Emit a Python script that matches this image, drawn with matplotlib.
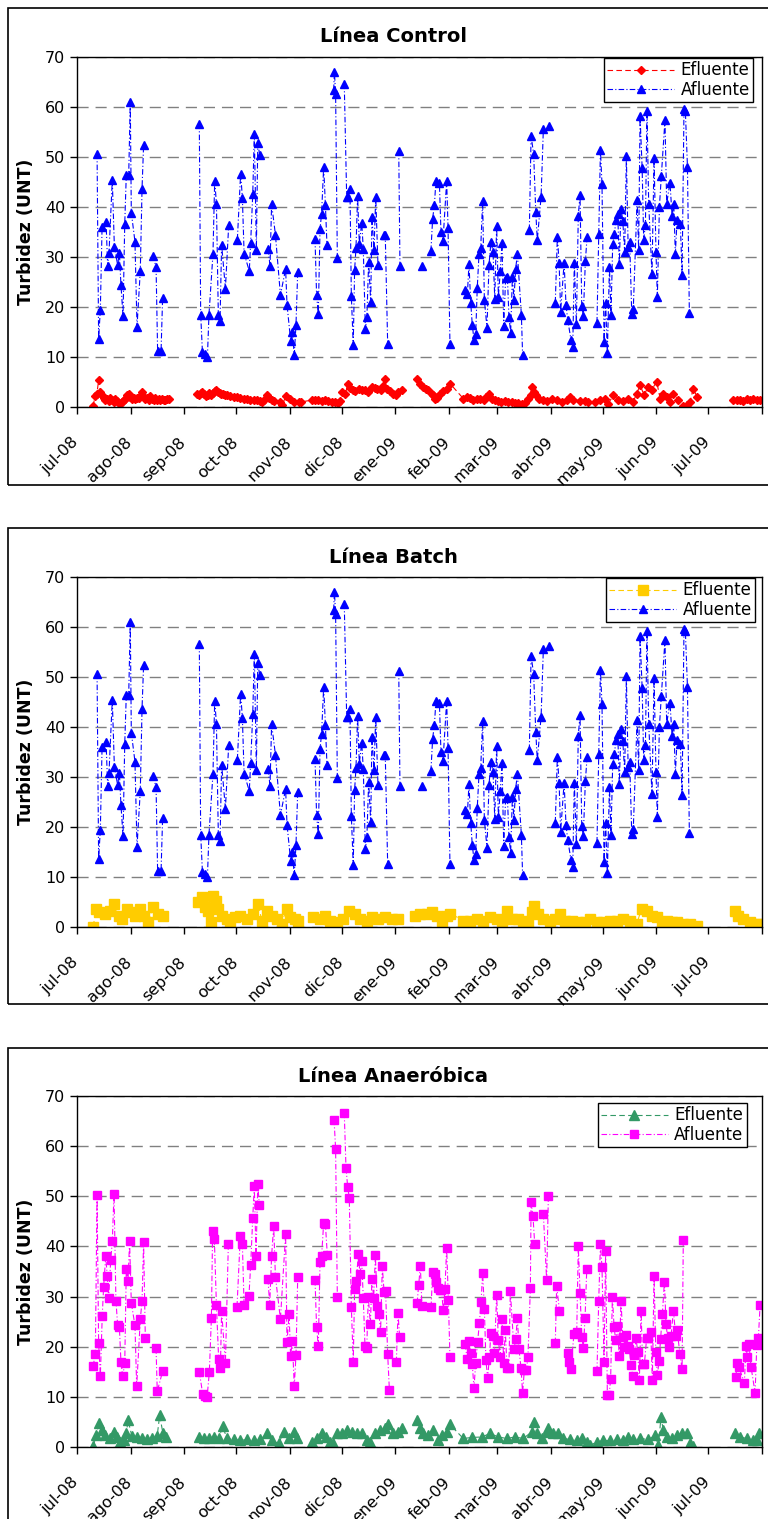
import numpy as np
import pandas as pd
import matplotlib
matplotlib.use("Agg")
import matplotlib.pyplot as plt
import matplotlib.transforms as mtransforms
from matplotlib.patches import Rectangle

# dias desde el 01-jul-2008 y turbidez (UNT)

# afluente de las lineas Control y Batch (es la misma serie)
dias_afl = [11.6, 12.5, 13.5, 14.5, 16.8, 17.7, 18.5, 20.4, 21.6, 23.5, 24.5, 25.4, 26.6, 27.6,
            28.5, 29.9, 30.8, 31.4, 33.5, 34.7, 36.6, 37.6, 38.5, 43.7, 45.7, 46.6, 48.6, 49.5,
            70.7, 71.5, 72.5, 73.8, 75.4, 76.3, 78.6, 79.6, 80.6, 81.7, 82.7, 83.6, 85.8, 87.7,
            92.7, 94.6, 95.6, 96.6, 99.6, 100.4, 101.6, 102.5, 103.7, 104.5, 105.6, 110.4, 111.6,
            112.5, 114.7, 117.6, 120.6, 121.4, 123.5, 124.5, 125.6, 126.6, 127.6,
            137.6, 138.5, 139.5, 140.5, 141.4, 142.6, 143.6, 144.5, 148.4, 148.8, 149.5, 150.5,
            154.5, 155.9, 156.9, 157.8, 158.6, 159.7, 160.5, 161.3, 162.2, 163.2, 164.6, 165.5,
            166.7, 167.6, 168.6, 169.8, 170.5, 171.7, 172.7, 174.0, 177.3, 178.2, 179.6, 186.0,
            186.7, 199.4, 204.6, 205.6, 206.6, 207.5, 209.5, 210.4, 211.6, 213.7, 214.5, 215.6,
            224.5, 225.7, 226.6, 227.6, 228.5, 229.5, 230.5, 231.4, 232.4, 233.4, 234.5, 235.5,
            237.0, 238.2, 239.3, 240.5, 241.5, 242.6, 243.6, 244.7, 245.7, 246.7, 247.8, 248.8,
            249.7, 250.7, 251.7, 252.6, 253.6, 254.6, 256.9, 257.6, 261.5, 262.5, 264.0, 265.2,
            266.1, 268.3, 269.6, 272.9, 276.5, 277.7, 278.7, 279.6, 281.6, 282.7, 283.7, 285.6,
            286.6, 287.5, 288.7, 289.8, 290.8, 291.8, 292.7, 293.9, 294.9, 300.6, 301.6, 302.6,
            303.5, 304.7, 305.6, 306.6, 307.8, 308.7, 309.7, 310.7, 311.6, 312.6, 313.5, 314.5,
            315.5, 316.6, 317.6, 318.6, 319.5, 320.7, 321.6, 323.8, 324.7, 325.5, 326.7, 327.6,
            328.6, 329.5, 330.5, 332.4, 333.6, 334.7, 335.5, 336.7, 337.8, 339.9, 340.9, 342.8,
            344.0, 345.0, 345.9, 346.9, 348.8, 349.8, 350.9, 351.7, 352.9, 354.0]
turb_afl = [50.7, 13.7, 19.5, 36.1, 37.1, 28.3, 30.9, 45.4, 32.1, 28.4, 30.9, 24.5, 18.2, 36.6,
            46.5, 46.5, 61.1, 38.9, 33.1, 16.1, 27.3, 43.7, 52.4, 30.3, 28.1, 11.3, 11.3, 21.9,
            56.7, 18.5, 11.1, 10.6, 10.1, 18.5, 30.6, 45.3, 40.7, 18.5, 17.3, 32.5, 23.7, 36.4,
            33.5, 46.7, 41.9, 30.7, 27.2, 32.9, 42.6, 54.7, 31.4, 52.9, 50.4, 31.6, 28.3,
            40.6, 34.5, 22.4, 27.6, 20.5, 13.3, 15.1, 10.4, 16.5, 27.1,
            33.7, 22.4, 18.7, 35.6, 38.7, 48.1, 40.4, 32.5, 63.4, 67.1, 62.7, 29.9,
            64.7, 42.1, 42.1, 43.7, 22.2, 12.5, 27.5, 31.9, 42.3, 32.7, 36.9, 31.6,
            15.6, 18.1, 29.1, 21.0, 38.1, 31.4, 42.1, 28.4, 34.5, 34.5, 12.6, 51.3,
            28.3, 28.3, 31.2, 37.7, 40.4, 45.2, 44.9, 35.1, 33.3, 45.2, 35.9, 12.6,
            23.4, 22.6, 28.7, 20.9, 16.5, 13.4, 14.7, 23.9, 30.6, 31.9, 41.3, 21.4,
            15.9, 28.5, 33.1, 31.1, 21.7, 36.2, 22.1, 27.2, 32.9, 16.2, 25.9, 26.1,
            18.1, 14.9, 26.1, 21.5, 27.7, 30.6, 18.4, 10.5, 35.4, 54.2, 50.6, 39.1,
            33.4, 42.1, 55.6, 56.2, 20.9, 34.1, 28.9, 19.1, 28.9, 20.4, 17.4, 13.4,
            12.1, 28.9, 16.6, 38.3, 42.5, 20.2, 18.3, 29.2, 34.1, 16.9, 34.7, 51.4,
            44.6, 13.1, 20.9, 10.9, 28.1, 18.4, 32.7, 34.7, 37.4, 38.7, 28.7, 39.7,
            37.3, 31.1, 50.2, 32.1, 33.1, 18.7, 19.7, 41.4, 31.4, 58.2, 47.9, 33.5,
            36.4, 59.3, 40.6, 26.6, 49.9, 31.1, 22.1, 40.1, 46.2, 57.4, 40.7, 44.9,
            38.3, 40.7, 30.6, 37.5, 36.7, 26.4, 59.7, 59.2, 48.1, 18.9]

# efluente linea Control
dias_efl_ctrl = [9.3, 10.5, 11.5, 12.5, 13.5, 14.5, 15.4, 16.4, 17.4, 18.3, 19.3, 20.2, 21.2, 22.2,
                 23.2, 24.1, 25.1, 26.1, 27.0, 28.0, 29.0, 29.9, 30.9, 31.8, 32.8, 33.7, 34.7, 35.7,
                 36.6, 37.6, 38.5, 39.5, 40.5, 41.4, 42.4, 43.4, 44.3, 45.3, 46.3, 47.2, 48.2, 49.2,
                 50.1, 51.1, 52.1, 53.0,
                 69.4, 70.5, 71.5, 72.5, 73.5, 74.6, 75.5, 76.5, 77.5, 78.5, 79.5, 80.6, 81.5, 82.5,
                 83.5, 84.5, 85.6, 86.7, 88.5, 90.5, 92.5, 94.5, 96.4, 98.3, 100.2, 102.2, 104.1,
                 106.0, 107.0, 108.0, 109.8, 111.0, 112.5, 114.0, 117.6, 118.5, 121.0, 123.3, 125.3,
                 128.2, 129.5,
                 135.7, 137.6, 139.5, 141.4, 143.3, 145.3, 147.2, 149.1, 151.0, 152.0,
                 153.0, 155.0, 156.9, 158.0, 159.7, 161.0, 163.2, 165.0, 166.7, 168.5, 170.5, 172.0,
                 173.6, 175.5, 176.8, 177.9, 179.0, 180.8, 182.8, 184.5, 185.6, 187.7,
                 196.3, 198.3, 200.2, 201.5, 203.1, 205.0, 206.0, 207.0, 208.0, 210.0, 211.8, 213.7,
                 215.6,
                 223.3, 225.3, 227.2, 229.1, 231.0, 233.0, 235.0, 236.7, 238.0, 239.7, 241.5, 243.5,
                 245.4, 247.3, 249.3, 251.2, 253.1, 255.0, 257.0, 259.0, 260.9, 262.2, 263.0, 264.0,
                 265.6, 267.2, 269.6, 271.7, 274.4, 277.3, 280.2, 283.1, 285.0, 287.0, 290.8, 293.7,
                 295.6, 299.5, 302.4, 305.3, 307.2, 310.1, 313.0, 315.9, 318.8, 321.6, 323.6, 325.5,
                 327.8, 330.3, 332.2, 335.1, 337.1, 339.0, 340.9, 342.8, 344.8, 347.7, 350.6, 352.5,
                 354.4, 356.3, 358.3,
                 379.5, 381.5, 383.3, 385.2, 387.2, 389.1, 391.0, 393.0, 394.9]
turb_efl_ctrl = [0.2, 2.3, 2.6, 5.4, 3.1, 2.4, 1.9, 1.5, 1.6, 1.2, 1.9, 1.4, 1.1, 1.6,
                 1.3, 0.9, 0.7, 1.1, 1.4, 1.7, 2.4, 2.7, 2.0, 1.7, 1.9, 1.6, 1.8, 1.9,
                 2.2, 3.1, 2.0, 1.6, 1.8, 1.5, 2.2, 1.6, 1.4, 1.8, 1.5, 1.6, 1.5, 1.7,
                 1.4, 1.5, 1.7, 1.6,
                 2.7, 2.4, 2.9, 3.1, 2.6, 2.2, 2.4, 2.8, 2.5, 2.9, 3.2, 3.4, 3.0, 2.9,
                 2.6, 2.7, 2.4, 2.4, 2.2, 2.1, 2.1, 1.9, 1.7, 1.6, 1.5, 1.5, 1.4,
                 1.2, 1.1, 1.4, 2.4, 1.8, 1.4, 1.2, 1.1, 0.4, 2.3, 1.7, 1.1,
                 1.1, 1.0,
                 1.4, 1.5, 1.4, 1.3, 1.4, 1.2, 1.1, 1.0, 0.9, 1.2,
                 3.1, 2.7, 4.7, 3.9, 3.4, 3.3, 3.7, 3.4, 3.4, 3.1, 4.1, 3.9,
                 3.7, 3.4, 4.3, 5.7, 3.7, 3.2, 2.7, 2.5, 3.0, 3.4,
                 5.7, 4.7, 4.1, 3.7, 3.4, 2.7, 2.4, 1.7, 1.9, 2.7, 3.2, 3.7,
                 4.7,
                 1.7, 2.1, 1.8, 1.5, 1.7, 1.6, 1.4, 2.0, 2.7, 1.6, 1.5, 1.3,
                 1.1, 1.2, 1.1, 1.0, 0.9, 0.8, 0.7, 0.8, 1.7, 2.5, 4.1, 3.0,
                 2.4, 1.7, 1.4, 1.2, 1.7, 1.4, 1.1, 1.5, 2.1, 1.4, 1.3, 1.3,
                 1.1, 1.1, 1.4, 1.7, 0.7, 2.4, 1.4, 1.3, 1.7, 1.1, 2.7, 4.4,
                 2.4, 4.1, 3.4, 5.1, 1.7, 2.7, 2.1, 1.1, 2.7, 1.4, 0.2, 0.4,
                 1.1, 3.7, 2.1,
                 1.5, 1.4, 1.5, 1.3, 1.7, 1.5, 1.6, 1.4, 1.5]

# efluente linea Batch
dias_efl_batch = [9.4, 11.0, 13.0, 16.0, 19.0, 21.4, 24.0, 26.0, 28.8, 31.0, 33.5, 36.4, 38.7, 41.2,
                  44.0, 47.0, 49.9,
                  70.1, 72.0, 74.0, 76.0, 77.3, 78.8, 80.4, 81.7, 83.6, 86.5, 88.4, 91.3, 94.2, 98.0,
                  102.0, 104.8, 106.7, 109.6, 112.6, 115.5, 118.3, 121.2, 123.2, 126.0, 128.0,
                  136.6, 140.5, 143.4, 146.3, 150.1, 154.0, 157.5, 160.7, 163.6, 167.5, 170.4, 174.2,
                  178.1, 181.9, 185.8,
                  195.4, 198.3, 202.2, 205.1, 208.0, 210.9, 213.7, 215.7,
                  223.4, 227.2, 231.1, 234.9, 238.8, 242.7, 245.5, 248.4, 251.3, 255.2, 258.1, 261.0,
                  262.9, 264.2, 266.7, 269.6, 273.5, 276.4, 279.3, 282.2, 286.0, 289.9, 293.7, 296.6,
                  300.5, 304.3, 308.2, 312.0, 315.9, 319.7, 323.6, 326.5, 329.4, 332.3, 335.2, 338.0,
                  340.9, 343.8, 346.7, 350.6, 354.4, 358.3,
                  380.4, 382.4, 385.3, 389.1, 393.0, 395.0]
turb_efl_batch = [0.1, 3.7, 3.0, 2.7, 3.3, 4.7, 2.3, 1.7, 3.7, 3.0, 2.3, 3.7, 2.3, 1.0,
                  4.0, 2.7, 2.3,
                  5.0, 6.0, 4.0, 3.3, 1.0, 6.3, 5.3, 3.7, 2.3, 1.7, 1.0, 2.0, 2.3, 1.7,
                  2.7, 4.7, 1.3, 3.3, 2.3, 1.7, 0.7, 3.7, 2.0, 1.7, 1.3,
                  2.0, 1.7, 2.3, 1.3, 1.0, 1.7, 3.3, 2.7, 1.7, 1.3, 2.0, 1.7,
                  2.0, 1.7, 1.7,
                  2.3, 2.7, 2.7, 3.0, 2.3, 1.3, 2.3, 2.7,
                  1.3, 1.3, 1.7, 1.3, 2.0, 1.7, 1.3, 3.3, 1.7, 1.7, 1.3, 1.0,
                  3.0, 4.3, 2.7, 1.7, 1.3, 1.7, 2.7, 1.3, 1.3, 1.0, 1.0, 1.7,
                  1.0, 1.0, 1.3, 1.3, 1.7, 1.3, 0.7, 3.7, 3.3, 2.3, 2.0, 1.0,
                  1.3, 1.0, 1.0, 0.7, 0.7, 0.3,
                  3.3, 2.3, 1.7, 1.0, 0.7, 0.7]

# afluente linea Anaerobica
dias_afl_ana = [9.3, 10.6, 11.6, 12.5, 13.5, 14.6, 15.4, 16.6, 17.5, 18.3, 19.5, 20.4, 21.4, 22.5,
                23.5, 24.5, 25.4, 26.4, 27.6, 28.5, 29.5, 30.4, 31.4, 33.5, 34.5, 36.6, 37.6, 38.5,
                39.5, 45.7, 46.4, 49.5,
                70.7, 72.7, 74.2, 75.2, 76.5, 77.7, 78.4, 79.4, 80.6, 81.9, 82.9, 83.6, 85.8, 87.5,
                92.5, 94.4, 95.6, 96.6, 99.4, 100.4, 101.6, 102.5, 103.5, 104.5, 105.4, 110.4, 111.4,
                112.5, 113.7, 114.7, 117.6, 120.6, 121.4, 122.6, 123.5, 124.5, 125.6, 126.6, 127.6,
                137.6, 138.5, 139.5, 140.5, 141.4, 142.6, 143.6, 144.7, 148.6, 149.5, 150.5, 154.5,
                155.5, 156.5, 157.4, 158.6, 159.7, 160.5, 161.5, 162.6, 163.6, 164.6, 165.5, 166.5,
                167.5, 168.4, 169.6, 170.5, 171.5, 172.5, 173.6, 174.6, 175.5, 176.5, 177.5, 178.4,
                179.6, 180.6, 184.6, 185.6, 186.5,
                196.6, 197.5, 198.5, 199.4, 204.7, 205.6, 206.8, 207.7, 208.7, 209.7, 210.6, 211.8,
                212.7, 213.7, 214.7, 215.6,
                224.5, 225.5, 226.4, 227.6, 228.5, 229.5, 230.5, 231.6, 232.6, 233.6, 234.5, 235.5,
                236.4, 237.4, 238.4, 239.3, 240.3, 241.3, 242.6, 243.6, 244.7, 245.7, 246.7, 247.6,
                248.6, 249.7, 250.5, 252.6, 253.6, 254.6, 255.5, 256.7, 257.6, 258.6, 259.8, 260.7,
                262.1, 262.5, 263.6, 264.6, 269.6, 271.5, 272.5, 276.5, 277.3, 278.9,
                284.1, 284.6, 285.4, 287.3, 288.9, 289.8, 290.8, 291.8, 292.7, 293.7, 294.7,
                300.6, 301.6, 302.6, 303.5, 304.7, 305.6, 306.6, 307.6, 308.5, 309.5, 310.5, 311.4,
                312.4, 313.5, 314.5, 315.5, 316.4, 317.4, 318.4, 319.3, 320.3, 321.3, 322.2, 323.2,
                324.1, 325.1, 326.1, 327.0, 328.0, 329.3, 330.3, 331.7, 332.6, 333.6, 334.6, 335.5,
                336.5, 337.4, 338.4, 339.6, 340.5, 341.5, 342.5, 343.4, 344.8, 346.1, 346.9, 348.6,
                349.8, 350.5,
                380.8, 381.8, 382.7, 385.8, 386.8, 387.5, 388.5, 389.7, 392.0, 393.0, 393.9, 394.9]
turb_afl_ana = [16.1, 18.5, 50.3, 20.7, 14.2, 26.2, 32.0, 38.0, 34.1, 29.7, 37.3, 41.0, 50.5, 29.2,
                24.3, 23.9, 17.0, 14.1, 16.7, 35.5, 33.2, 41.0, 28.7, 24.3, 12.1, 25.5, 29.1, 40.8,
                21.7, 19.7, 11.1, 15.1,
                15.0, 10.5, 10.2, 9.9, 14.9, 25.8, 43.1, 41.5, 28.3, 17.5, 15.7, 27.1, 16.7, 40.5,
                28.0, 42.0, 40.5, 28.3, 30.1, 36.3, 45.7, 52.1, 38.0, 52.5, 48.3, 33.5, 28.3,
                38.1, 44.1, 34.0, 25.5, 42.5, 20.9, 26.5, 18.1, 21.2, 12.1, 18.3, 33.9,
                33.3, 24.0, 20.1, 36.9, 38.0, 44.7, 44.5, 38.3, 65.3, 59.5, 29.9, 66.7,
                55.7, 51.8, 49.7, 27.9, 17.0, 31.5, 33.1, 38.5, 34.5, 37.0, 29.7, 20.1,
                19.8, 29.9, 24.5, 33.5, 29.7, 38.2, 28.1, 26.5, 22.9, 36.0, 31.0, 31.1,
                18.5, 11.3, 16.9, 26.7, 21.9,
                28.7, 32.3, 36.1, 28.1, 27.9, 34.9, 34.5, 33.0, 31.8, 31.3, 31.3, 27.3,
                31.5, 39.7, 29.3, 17.9,
                20.5, 17.5, 21.2, 18.7, 16.5, 11.8, 16.8, 20.9, 24.7, 28.9, 34.8, 27.5,
                17.3, 13.7, 18.0, 22.8, 22.1, 18.7, 30.3, 21.3, 18.0, 25.5, 16.7, 23.3,
                15.7, 15.7, 31.2, 19.5, 21.5, 25.7, 19.5, 15.7, 10.8, 15.3, 15.3, 18.0,
                31.7, 48.8, 46.0, 40.5, 46.5, 33.3, 50.1, 20.7, 32.1, 27.2,
                18.7, 17.0, 15.5, 22.5, 23.0, 40.0, 30.8, 22.0, 19.8, 25.7, 35.5,
                15.1, 29.1, 40.5, 35.8, 17.0, 39.0, 10.3, 10.3, 13.5, 30.0, 23.9, 21.3,
                24.2, 18.1, 29.2, 22.0, 19.9, 22.3, 20.1, 19.5, 16.3, 14.1, 18.3, 21.7,
                19.0, 13.3, 27.2, 16.5, 16.5, 21.7, 21.7, 23.0, 13.3, 34.1, 19.0, 14.3,
                17.2, 21.5, 26.5, 33.0, 24.5, 21.7, 19.9, 22.1, 27.2, 22.1, 23.3, 18.5,
                15.5, 41.2,
                13.9, 16.8, 15.9, 12.8, 20.2, 18.0, 20.5, 15.9, 10.8, 20.3, 21.7, 28.3]

# efluente linea Anaerobica
dias_efl_ana = [9.3, 11.2, 12.5, 14.5, 16.4, 19.3, 21.2, 23.1, 25.1, 27.0, 28.5, 29.5, 31.8, 34.7,
                37.6, 40.5, 43.4, 46.3, 47.8, 49.7, 51.6,
                70.3, 73.2, 76.1, 79.0, 81.9, 84.2, 86.7, 90.6, 94.4, 98.3, 102.1, 106.0, 109.8,
                112.7, 116.6, 119.5, 122.4, 125.3, 127.2,
                135.7, 138.5, 141.4, 143.7, 146.3, 148.2, 150.1, 153.0, 155.9, 158.8, 161.7, 164.6,
                167.5, 169.4, 172.3, 175.2, 178.1, 180.0, 182.9, 185.8, 187.7,
                196.4, 198.3, 200.2, 203.1, 206.0, 208.9, 210.8, 213.7, 215.6,
                223.3, 228.2, 234.0, 238.8, 243.6, 248.4, 253.2, 258.0, 262.8, 264.4, 265.8, 268.6,
                271.5, 272.5, 275.4, 278.3, 281.2, 285.0, 288.9, 291.8, 294.7, 296.6, 300.4, 304.3,
                308.2, 312.0, 315.9, 318.8, 321.6, 325.5, 330.3, 334.2, 336.1, 337.6, 339.0, 340.9,
                343.8, 346.7, 349.6, 352.5, 354.4, 356.3,
                380.4, 383.3, 387.2, 391.0, 393.0, 394.5]
turb_efl_ana = [0.1, 2.3, 4.7, 3.3, 2.3, 1.7, 3.0, 2.0, 1.0, 1.3, 2.7, 5.3, 2.1, 2.0,
                1.7, 1.5, 1.7, 2.1, 6.3, 2.7, 2.0,
                1.9, 1.7, 1.7, 2.0, 1.7, 4.1, 1.7, 1.5, 1.3, 1.5, 1.3, 1.5, 2.7,
                1.3, 0.7, 3.0, 1.7, 3.0, 1.7,
                1.0, 1.7, 2.7, 2.0, 1.0, 0.8, 2.7, 2.7, 3.3, 3.0, 2.7, 2.7,
                1.3, 1.0, 2.7, 3.3, 3.7, 4.5, 2.7, 3.0, 3.7,
                5.3, 3.7, 2.7, 2.3, 3.3, 1.3, 2.3, 3.0, 4.5,
                1.7, 1.9, 2.0, 2.7, 2.0, 1.7, 2.0, 1.7, 3.0, 5.0, 2.7, 1.7,
                3.0, 3.7, 2.7, 2.7, 1.7, 1.5, 1.3, 1.7, 1.0, 0.3, 1.0, 1.3,
                1.3, 1.5, 1.3, 2.0, 1.5, 1.7, 1.5, 2.3, 0.3, 5.9, 3.3, 2.0,
                1.7, 2.3, 2.7, 2.7, 0.7, 0.1,
                2.7, 2.0, 1.7, 1.3, 1.3, 2.7]

inicio = pd.Timestamp("2008-07-01")
meses = pd.date_range("2008-07-01", "2009-08-01", freq="MS")
etiquetas = ["jul-08", "ago-08", "sep-08", "oct-08", "nov-08", "dic-08", "ene-09",
             "feb-09", "mar-09", "abr-09", "may-09", "jun-09", "jul-09", ""]


def cortar(d, v, hueco):
    # Excel deja un hueco cuando faltan dias
    d = np.asarray(d, float)
    v = np.asarray(v, float)
    idx = np.where(np.diff(d) > hueco)[0] + 1
    return np.insert(d, idx, np.nan), np.insert(v, idx, np.nan)


W, H = 768, 1519
fig = plt.figure(figsize=(W / 100, H / 100), dpi=100)

paneles = [
    ("Línea Control", 8, 485, 57, 407,
     (dias_efl_ctrl, turb_efl_ctrl, "#FF0000", "D", 4.5),
     (dias_afl, turb_afl, "#0000FF", "^", 5.5), (0.987, 0.997)),
    ("Línea Batch", 528, 1004, 577, 927,
     (dias_efl_batch, turb_efl_batch, "#FFCC00", "s", 6.5),
     (dias_afl, turb_afl, "#0000FF", "^", 5.5), (0.99, 0.997)),
    ("Línea Anaeróbica", 1048, 1560, 1096, 1447,
     (dias_efl_ana, turb_efl_ana, "#339966", "^", 6.5),
     (dias_afl_ana, turb_afl_ana, "#FF00FF", "s", 6.0), (0.978, 0.98)),
]

ticks = (meses - inicio).days
desplaza = mtransforms.ScaledTranslation(-6 / 100, -8 / 100, fig.dpi_scale_trans)

for titulo, caja_top, caja_bot, top, bot, efl, afl, leg_pos in paneles:
    # borde del area del grafico
    fig.add_artist(Rectangle((8 / W, 1 - caja_bot / H), 780 / W, (caja_bot - caja_top) / H,
                             transform=fig.transFigure, fill=False, ec="black", lw=1.2))
    ax = fig.add_axes([77 / W, 1 - bot / H, 685 / W, (bot - top) / H])

    d, v = cortar(efl[0], efl[1], 8)
    ax.plot(d, v, color=efl[2], ls=(0, (5, 3)), lw=0.8, marker=efl[3], ms=efl[4],
            mec=efl[2], mfc=efl[2], label="Efluente")
    d, v = cortar(afl[0], afl[1], 3.2)
    ax.plot(d, v, color=afl[2], ls=(0, (5, 2, 1, 2)), lw=0.8, marker=afl[3], ms=afl[4],
            mec=afl[2], mfc=afl[2], label="Afluente")

    ax.set_xlim(0, ticks[-1])
    ax.set_ylim(0, 70)
    ax.set_yticks(range(0, 71, 10))
    ax.set_xticks(ticks)
    ax.set_xticklabels(etiquetas, rotation=45, ha="right", va="top", rotation_mode="anchor")
    ax.tick_params(axis="both", direction="out", length=5, width=1, labelsize=11.5)
    ax.tick_params(axis="x", pad=9)
    for lab in ax.get_xticklabels():
        lab.set_transform(lab.get_transform() + desplaza)
    ax.yaxis.grid(True, ls=(0, (8, 5)), color="#808080", lw=1)
    ax.set_axisbelow(True)
    for s in ax.spines.values():
        s.set_linewidth(1)
        s.set_color("black")
    ax.set_ylabel("Turbidez (UNT)", fontsize=12.5, fontweight="bold")
    ax.yaxis.set_label_coords(-0.062, 0.5)

    leg = ax.legend(loc="upper right", bbox_to_anchor=leg_pos, borderaxespad=0, fontsize=12,
                    frameon=True, fancybox=False, framealpha=1, edgecolor="black",
                    handlelength=4.0, handletextpad=0.4, borderpad=0.2, labelspacing=0.1)
    leg.get_frame().set_linewidth(1)

    fig.text(393 / W, 1 - (top - 20) / H, titulo, ha="center", va="center",
             fontsize=14, fontweight="bold")

fig.savefig("out.png", dpi=100)
